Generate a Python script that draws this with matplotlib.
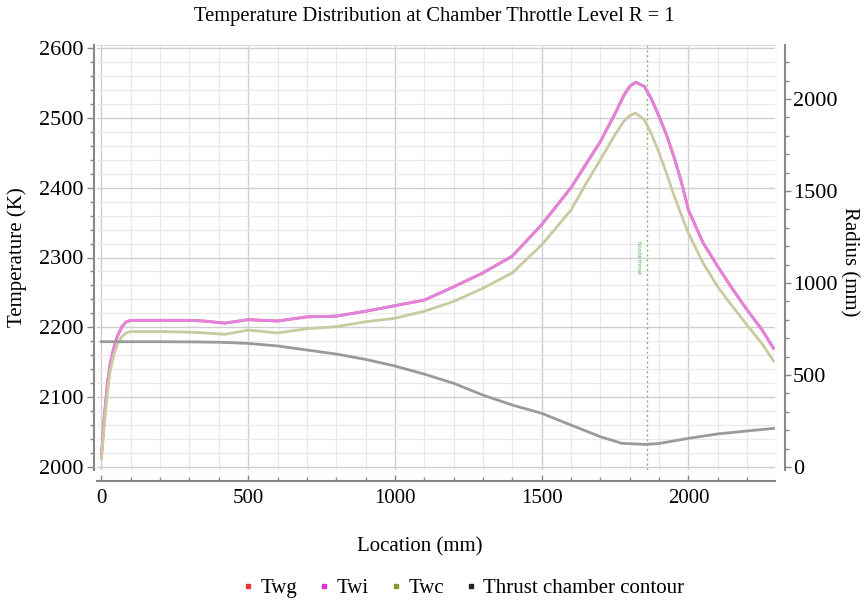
import matplotlib
matplotlib.use("Agg")
import matplotlib.pyplot as plt
from matplotlib.ticker import MultipleLocator
from matplotlib.lines import Line2D

plt.rcParams['font.family'] = ['Liberation Serif', 'DejaVu Serif']

# ---- data ----
loc_t = [0, 10, 20, 30, 42, 55, 70, 85, 100, 200, 300, 350, 420, 500, 600, 700, 800, 900,
         1000, 1100, 1200, 1300, 1400, 1500, 1600, 1650, 1700, 1750, 1780, 1800, 1820,
         1850, 1875, 1900, 1925, 1950, 1975, 2000, 2050, 2100, 2150, 2200, 2250, 2290]
twi = [2015, 2072, 2118, 2148, 2170, 2188, 2201, 2208, 2210, 2210, 2210, 2209, 2206, 2211,
       2209, 2215, 2216, 2223, 2231, 2239, 2258, 2278, 2302, 2347, 2400, 2433, 2466, 2506,
       2532, 2545, 2551, 2545, 2526, 2502, 2476, 2445, 2410, 2368, 2321, 2287, 2255, 2225,
       2197, 2170]
twg = [2015, 2072, 2118, 2148, 2170, 2188, 2201, 2208, 2210, 2210, 2210, 2209, 2206, 2211,
       2209, 2215, 2216, 2223, 2231, 2239, 2258, 2278, 2302, 2347, 2400, 2433, 2466, 2506,
       2532, 2545, 2551, 2545, 2526, 2502, 2476, 2445, 2410, 2368, 2321, 2287, 2255, 2225,
       2197, 2170]
twc = [2012, 2060, 2105, 2138, 2160, 2176, 2187, 2192, 2194, 2194, 2193, 2192, 2190, 2196,
       2192, 2198, 2201, 2208, 2213, 2223, 2237, 2256, 2278, 2318, 2368, 2405, 2440, 2476,
       2495, 2503, 2507, 2497, 2476, 2450, 2421, 2390, 2362, 2335, 2292, 2258, 2230, 2203,
       2177, 2152]

loc_r = [0, 100, 200, 300, 400, 500, 600, 700, 800, 900, 1000, 1100, 1200, 1300, 1400,
         1500, 1600, 1700, 1773, 1855, 1900, 1950, 2000, 2100, 2200, 2290]
radius = [681, 681, 681, 680, 678, 672, 658, 636, 614, 585, 549, 505, 455, 391, 337,
          292, 228, 165, 129, 123, 128, 142, 156, 180, 196, 210]

throat_x = 1860

legend_labels = ["Twg", "Twi", "Twc", "Thrust chamber contour"]
legend_colors = ["#ee3333", "#dd33dd", "#8a9a2a", "#222222"]

# ---- figure ----
fig = plt.figure(figsize=(8.68, 6.0), dpi=100)
ax = fig.add_axes([97/868, 1-470/600, (775-97)/868, 425/600])
ax2 = ax.twinx()

ax.set_xlim(-15, 2295)
ax.set_ylim(1995.7, 2604.3)
ax2.set_ylim(-16, 2293)

# grid
ax.xaxis.set_major_locator(MultipleLocator(500))
ax.xaxis.set_minor_locator(MultipleLocator(100))
ax.yaxis.set_major_locator(MultipleLocator(100))
ax.yaxis.set_minor_locator(MultipleLocator(20))
ax.grid(which='major', color='#cfcfcf', linewidth=1.0)
ax.grid(which='minor', color='#e9e9e9', linewidth=0.9)
ax.set_axisbelow(True)

gray = '#888888'
ax.plot(loc_t, twg, color='#ee5555', lw=2.0, zorder=3)
ax.plot(loc_t, twi, color='#e283e2', lw=2.0, zorder=4)
ax.plot(loc_t, twc, color='#cacaa2', lw=2.0, zorder=4)
ax2.plot(loc_r, radius, color='#9a9a9a', lw=2.0, zorder=4)

ax.axvline(throat_x, color='#77bb77', lw=1.0, ls=(0, (1.5, 2.0)), zorder=2)
ax.text(throat_x - 30, 2300, "Nozzle throat", rotation=270, color='#55aa55',
        fontsize=3.5, ha='center', va='center', family='DejaVu Sans')

# spines
ax.spines['right'].set_visible(False)
ax.spines['top'].set_color('#dddddd')
ax.spines['left'].set_position(('outward', 2))
ax.spines['left'].set_color(gray)
ax.spines['left'].set_linewidth(1.5)
ax.spines['bottom'].set_position(('outward', 8))
ax.spines['bottom'].set_color(gray)
ax.spines['bottom'].set_linewidth(1.5)
for s in ['left', 'top', 'bottom']:
    ax2.spines[s].set_visible(False)
ax2.spines['right'].set_position(('outward', 7))
ax2.spines['right'].set_color(gray)
ax2.spines['right'].set_linewidth(1.5)

ax.tick_params(axis='y', which='major', direction='out', length=5, width=1, color=gray,
               labelsize=16, pad=3, labelcolor='black')
ax.tick_params(axis='y', which='minor', direction='out', length=3, width=1, color=gray)
ax.tick_params(axis='x', which='major', direction='in', length=4, width=1, color=gray,
               labelsize=15, pad=6, labelcolor='black')
ax.tick_params(axis='x', which='minor', direction='in', length=3, width=1, color=gray)

ax2.yaxis.set_major_locator(MultipleLocator(500))
ax2.yaxis.set_minor_locator(MultipleLocator(100))
ax2.tick_params(axis='y', which='major', direction='out', length=4, width=1, color=gray,
                labelsize=16, pad=2, labelcolor='black')
ax2.tick_params(axis='y', which='minor', direction='out', length=3, width=1, color=gray)

# labels
ax.set_ylabel("Temperature (K)", fontsize=15)
ax.yaxis.set_label_coords(-0.103, 0.5)
ax2.set_ylabel("Radius (mm)", fontsize=15, rotation=270, va='center')
ax2.yaxis.set_label_coords(1.11, 0.49)
ax.set_xlabel("Location (mm)", fontsize=15)
ax.xaxis.set_label_coords(0.476, -0.158)

fig.text(0.5, 1 - 16/600, "Temperature Distribution at Chamber Throttle Level R = 1",
         ha='center', va='center', fontsize=14.8)

handles = [Line2D([], [], ls='none', marker='s', markersize=3.5, color=c) for c in legend_colors]
fig.legend(handles, legend_labels, loc='center', bbox_to_anchor=(463/868, 1 - 588/600),
           ncol=4, frameon=False, fontsize=15, handlelength=0.6, handletextpad=0.3,
           columnspacing=1.0, borderaxespad=0)

fig.savefig("out.png", dpi=100)
